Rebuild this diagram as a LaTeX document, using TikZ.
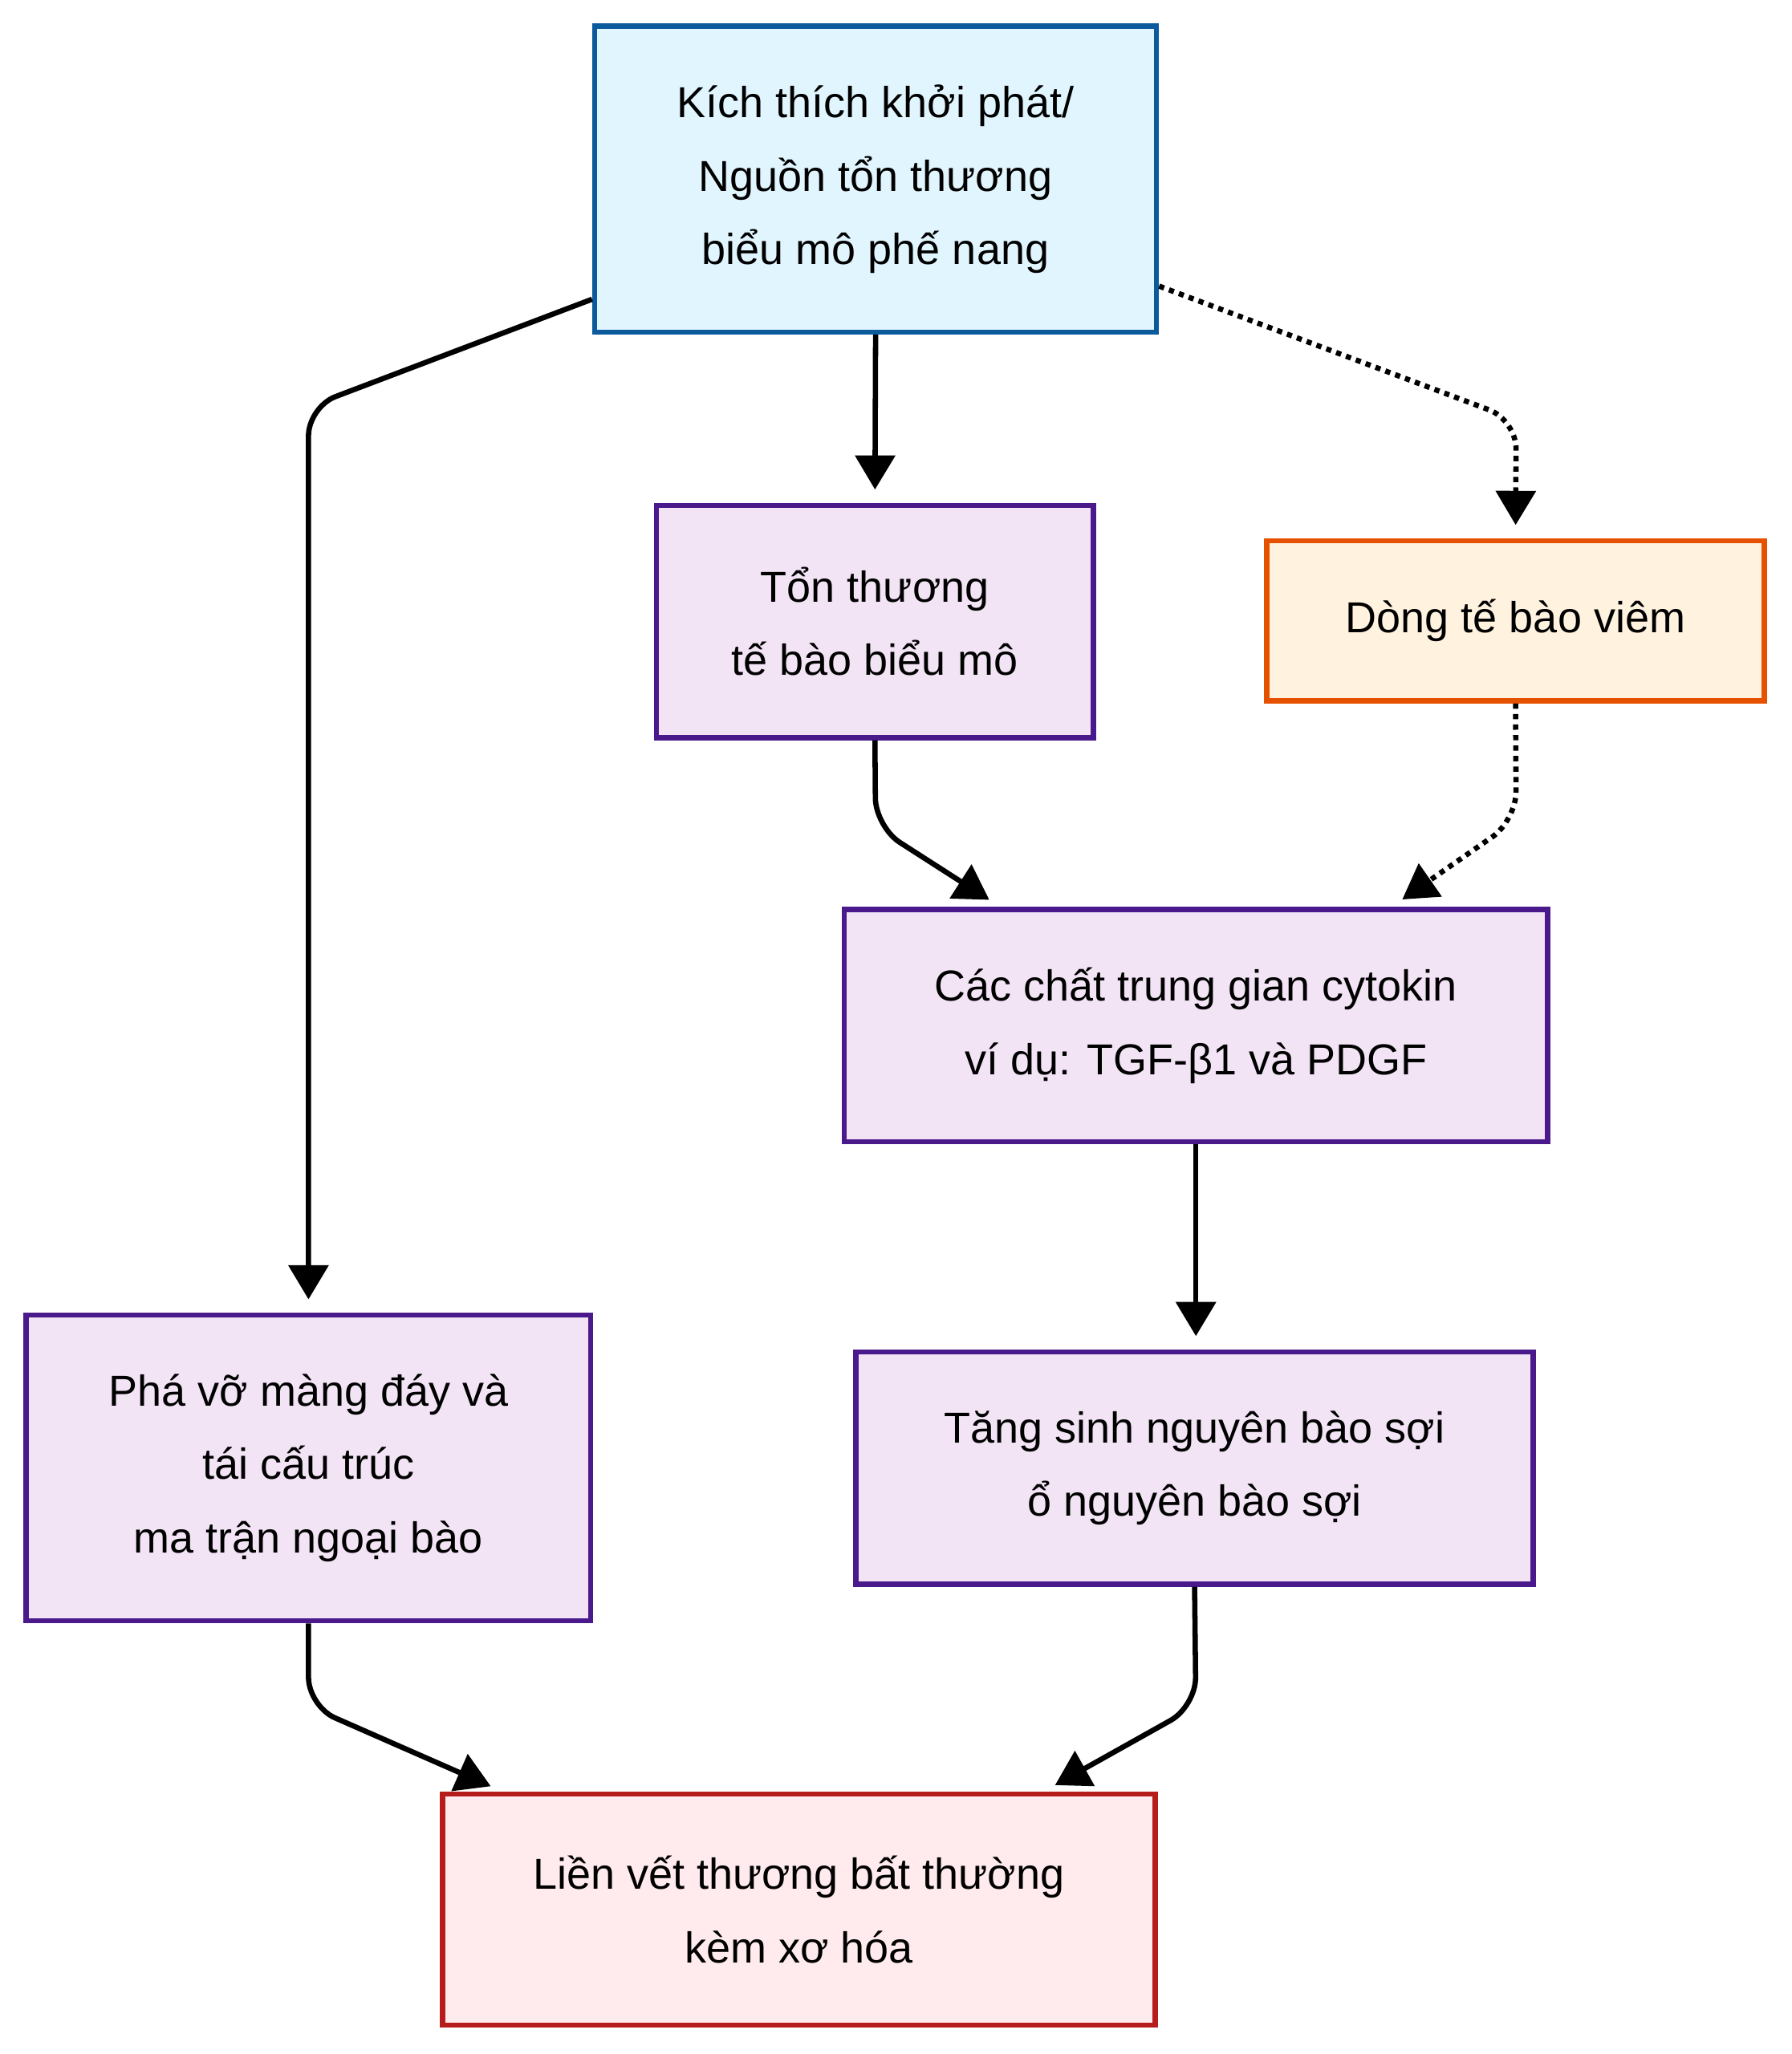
\documentclass[tikz,border=0pt]{standalone}
\usepackage{fontspec}
\setmainfont{Liberation Sans}
\usetikzlibrary{arrows.meta}
\begin{document}
\begin{tikzpicture}[x=1pt,y=-1pt,
 box/.style={draw,line width=4pt,align=center,font=\fontsize{33}{56}\selectfont,inner sep=0pt},
 pu/.style={box,draw=violet!80!black,fill=purple!10},
 conn/.style={line width=4pt,rounded corners=22pt,-{Triangle[length=26pt,width=30pt]},shorten >=10pt},
 dot/.style={conn,dash pattern=on 4pt off 4pt}]
\definecolor{bluebd}{HTML}{0B5A9C}\definecolor{bluef}{HTML}{E1F5FE}
\definecolor{purbd}{HTML}{4A1A8C}\definecolor{purf}{HTML}{F2E4F5}
\definecolor{orbd}{HTML}{E65100}\definecolor{orf}{HTML}{FFF3E0}
\definecolor{rdbd}{HTML}{B71C1C}\definecolor{rdf}{HTML}{FFEBEE}
\useasboundingbox (0,0) rectangle (1365,1565);
\node[box,draw=bluebd,fill=bluef,minimum width=428pt,minimum height=233pt] (A) at (667,136.5) {Kích thích khởi phát/\\Nguồn tổn thương\\biểu mô phế nang};
\node[box,draw=purbd,fill=purf,minimum width=333pt,minimum height=177pt] (B) at (666.5,473.5) {Tổn thương\\tế bào biểu mô};
\node[box,draw=orbd,fill=orf,minimum width=379pt,minimum height=122pt] (C) at (1154.5,473) {Dòng tế bào viêm};
\node[box,draw=purbd,fill=purf,minimum width=536pt,minimum height=177pt] (D) at (911,781.5) {Các chất trung gian cytokin\\ví dụ: TGF-β1 và PDGF};
\node[box,draw=purbd,fill=purf,minimum width=430pt,minimum height=233pt] (E) at (235,1118.5) {Phá vỡ màng đáy và\\tái cấu trúc\\ma trận ngoại bào};
\node[box,draw=purbd,fill=purf,minimum width=516pt,minimum height=177pt] (F) at (910,1118.5) {Tăng sinh nguyên bào sợi\\ổ nguyên bào sợi};
\node[box,draw=rdbd,fill=rdf,minimum width=543pt,minimum height=176pt] (G) at (608.5,1455) {Liền vết thương bất thường\\kèm xơ hóa};
\draw[conn] (A.south) -- (B.north);
\draw[conn] (A.south west |- 0,228) -- (235,310) -- (E.north);
\draw[dot] (A.east |- 0,218) -- (1155,320) -- (C.north);
\draw[conn] (B.south) -- (667,630) -- (D.north -| 762,0);
\draw[dot] (C.south) -- (1155,625) -- (D.north -| 1060,0);
\draw[conn] (D.south) -- (F.north -| D.south);
\draw[conn] (E.south) -- (235,1300) -- (G.north -| 383,0);
\draw[conn] (F.south) -- (911,1300) -- (G.north -| 795,0);
\end{tikzpicture}
\end{document}
